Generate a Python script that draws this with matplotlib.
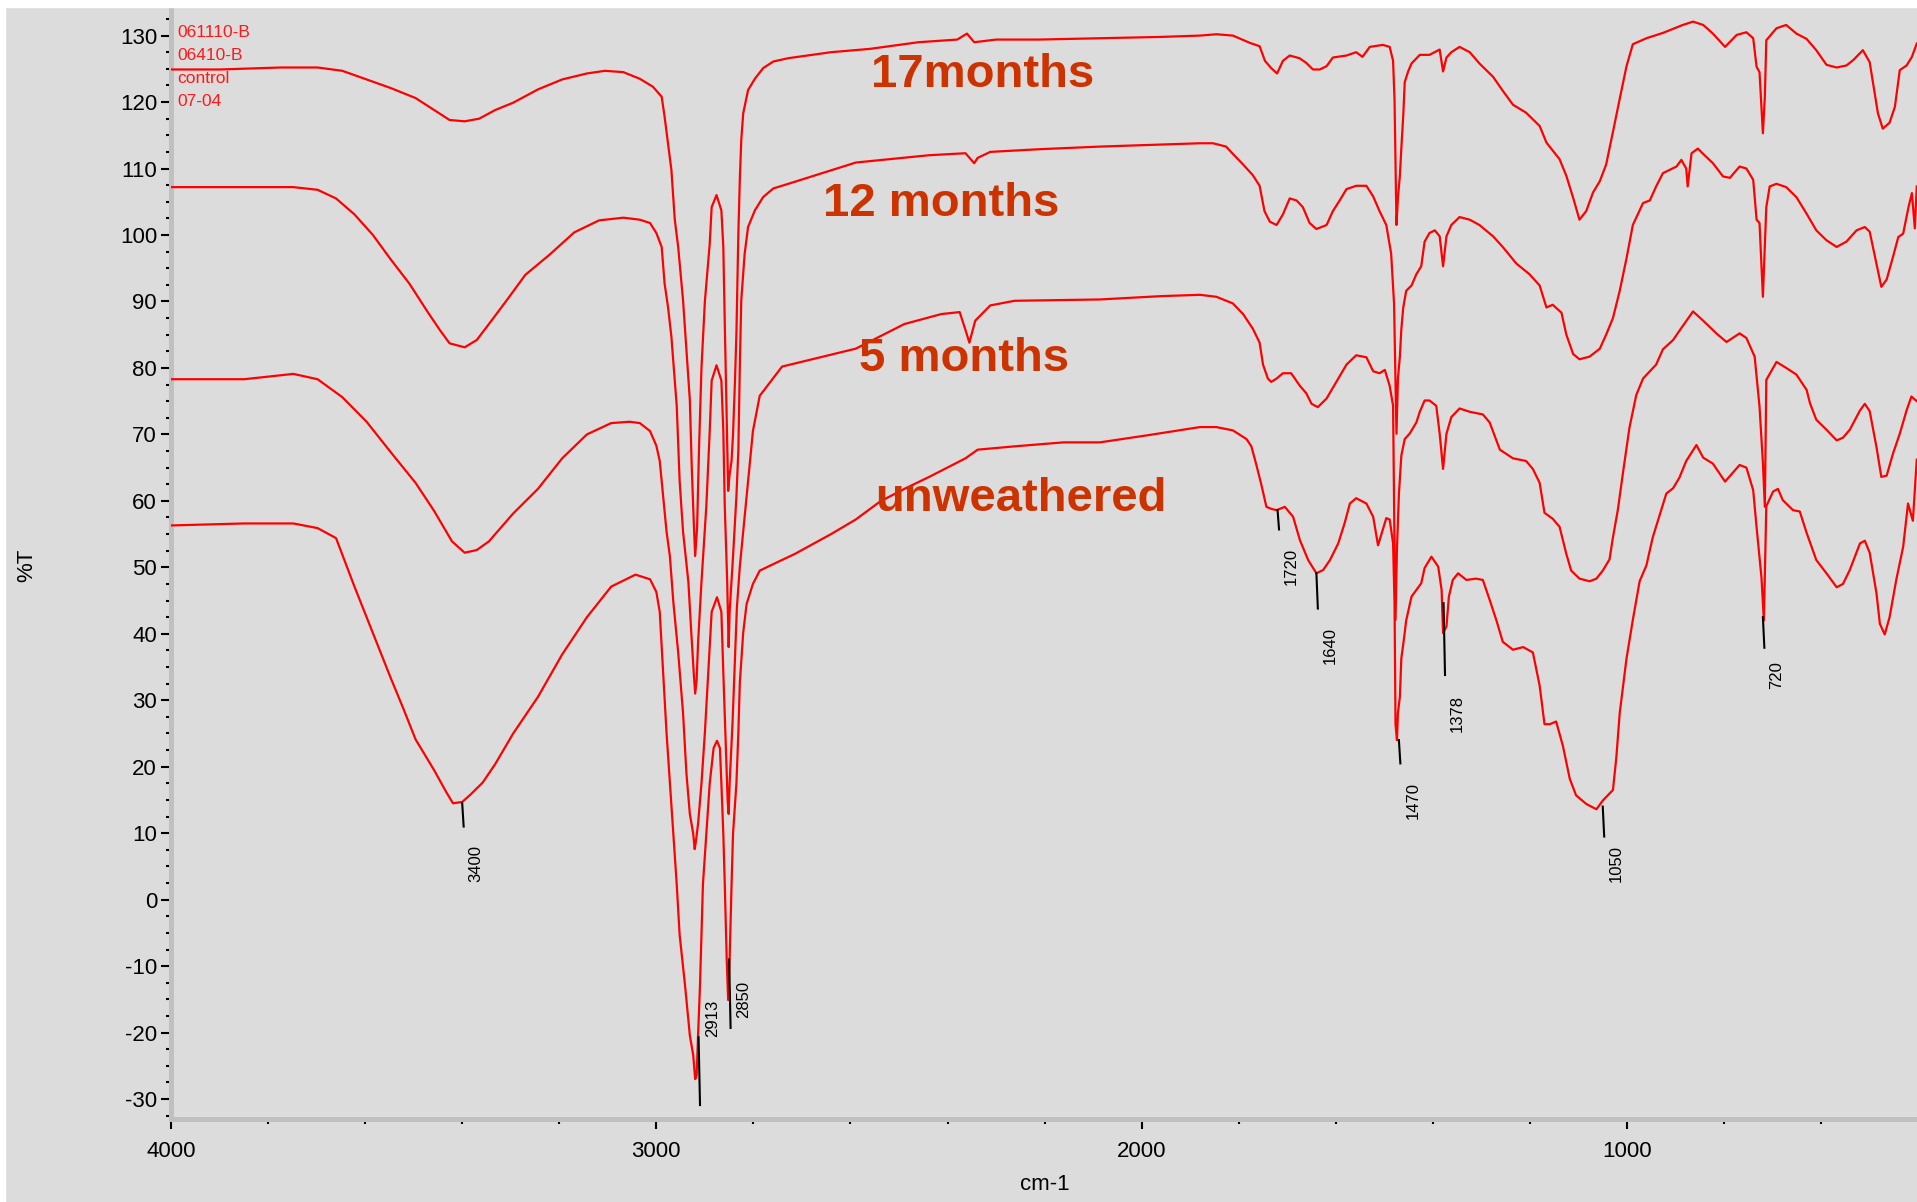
"""FTIR spectra of weathered film samples, offset stack with peak markers."""

import numpy as np
import matplotlib

matplotlib.use("Agg")
import matplotlib.pyplot as plt
from matplotlib.patches import Rectangle
from matplotlib.ticker import MultipleLocator
from matplotlib.transforms import offset_copy

plt.rcParams["font.family"] = ["Liberation Sans", "DejaVu Sans"]
plt.rcParams["axes.unicode_minus"] = False

# (wavenumber cm-1, %T) for each sample
spec_17m = [
    (4000, 124.9), (3899, 124.9), (3773, 125.2), (3698, 125.2), (3647, 124.7), (3597, 123.4),
    (3547, 122.1), (3496, 120.6), (3458, 118.8), (3426, 117.3), (3395, 117.1), (3365, 117.5),
    (3332, 118.8), (3295, 119.9), (3244, 121.9), (3194, 123.4), (3143, 124.3), (3106, 124.7),
    (3068, 124.5), (3034, 123.5), (3007, 122.3), (2989, 120.8), (2983, 117.8), (2976, 113.8),
    (2969, 109.8), (2962, 102.3), (2955, 98.2), (2945, 90.2), (2938, 82.7), (2931, 75.2),
    (2927, 65.0), (2923, 57.0), (2920, 51.7), (2916, 56.0), (2912, 68.0), (2907, 80.0),
    (2900, 90.0), (2890, 98.7), (2886, 104.2), (2876, 106.0), (2866, 103.7), (2862, 98.2),
    (2859, 86.7), (2855, 72.7), (2852, 61.5), (2849, 64.0), (2845, 66.0), (2842, 70.0),
    (2838, 78.0), (2835, 85.2), (2831, 100.3), (2828, 108.3), (2825, 114.3), (2821, 118.3),
    (2811, 121.8), (2797, 123.5), (2780, 125.1), (2759, 126.1), (2728, 126.6), (2640, 127.5),
    (2560, 128.0), (2460, 129.0), (2380, 129.4), (2360, 130.3), (2345, 129.0), (2300, 129.4),
    (2212, 129.4), (2086, 129.6), (1960, 129.8), (1880, 130.0), (1846, 130.2), (1812, 130.0),
    (1777, 128.9), (1757, 128.4), (1746, 126.2), (1733, 125.1), (1721, 124.3), (1709, 126.2),
    (1695, 127.0), (1675, 126.6), (1661, 125.9), (1647, 124.9), (1633, 124.9), (1619, 125.4),
    (1606, 126.7), (1578, 127.0), (1558, 127.5), (1545, 126.8), (1530, 128.3), (1503, 128.6),
    (1489, 128.3), (1482, 126.2), (1479, 120.3), (1475, 101.5), (1472, 105.6), (1468, 108.9),
    (1465, 113.0), (1461, 118.0), (1458, 123.0), (1451, 124.6), (1444, 125.8), (1427, 127.1),
    (1407, 127.1), (1386, 127.9), (1379, 124.6), (1372, 126.7), (1362, 127.5), (1345, 128.3),
    (1324, 127.5), (1304, 125.8), (1276, 123.8), (1256, 121.7), (1235, 119.6), (1208, 118.4),
    (1180, 116.4), (1166, 113.9), (1139, 111.4), (1125, 108.9), (1111, 105.6), (1098, 102.3),
    (1084, 103.6), (1070, 106.4), (1056, 108.1), (1043, 110.6), (1029, 115.5), (1015, 120.5),
    (1001, 125.4), (988, 128.7), (960, 129.6), (926, 130.4), (885, 131.6), (864, 132.1),
    (843, 131.6), (823, 130.3), (798, 128.3), (774, 130.1), (754, 130.5), (740, 129.6),
    (733, 125.3), (727, 124.5), (720, 115.3), (716, 120.8), (713, 129.3), (692, 131.1),
    (672, 131.6), (651, 130.3), (630, 129.5), (610, 127.8), (589, 125.6), (568, 125.2),
    (548, 125.5), (534, 126.3), (514, 127.8), (500, 126.0), (493, 122.8), (483, 118.3),
    (473, 116.0), (459, 116.9), (448, 119.3), (438, 124.8), (424, 125.5), (413, 126.8),
    (403, 128.8),
]

spec_12m = [
    (4000, 107.2), (3849, 107.2), (3748, 107.2), (3698, 106.8), (3660, 105.5), (3622, 103.1),
    (3584, 100.0), (3547, 96.3), (3509, 92.7), (3471, 88.4), (3446, 85.7), (3426, 83.7),
    (3395, 83.1), (3370, 84.2), (3345, 86.6), (3307, 90.3), (3270, 94.0), (3219, 97.1),
    (3169, 100.4), (3118, 102.2), (3068, 102.6), (3034, 102.3), (3013, 101.8), (3000, 100.3),
    (2989, 98.2), (2983, 92.7), (2976, 89.2), (2969, 84.7), (2958, 74.3), (2952, 63.0),
    (2945, 55.4), (2934, 47.8), (2928, 40.2), (2923, 34.2), (2920, 31.0), (2917, 33.0),
    (2914, 38.7), (2907, 47.8), (2897, 59.2), (2890, 70.5), (2886, 78.1), (2876, 80.4),
    (2866, 78.1), (2862, 70.5), (2859, 59.2), (2854, 47.8), (2851, 38.0), (2849, 43.3),
    (2842, 51.6), (2835, 60.7), (2831, 67.6), (2828, 80.2), (2825, 90.2), (2818, 97.2),
    (2811, 101.2), (2797, 103.7), (2780, 105.7), (2759, 107.0), (2728, 107.7), (2589, 110.9),
    (2438, 112.0), (2363, 112.3), (2345, 110.8), (2338, 111.6), (2312, 112.5), (2212, 112.9),
    (2086, 113.3), (1960, 113.6), (1880, 113.8), (1853, 113.8), (1826, 113.3), (1812, 112.2),
    (1791, 110.6), (1771, 109.0), (1757, 107.4), (1747, 103.6), (1736, 102.0), (1722, 101.5),
    (1709, 103.1), (1695, 105.5), (1681, 105.2), (1668, 104.2), (1654, 101.8), (1640, 100.9),
    (1619, 101.5), (1606, 103.6), (1592, 105.2), (1578, 106.9), (1558, 107.4), (1537, 107.4),
    (1523, 105.8), (1510, 103.6), (1496, 101.5), (1486, 97.2), (1480, 89.7), (1475, 70.1),
    (1472, 78.4), (1468, 81.7), (1465, 85.8), (1461, 89.1), (1455, 91.6), (1444, 92.4),
    (1434, 94.1), (1424, 95.3), (1417, 99.0), (1407, 100.3), (1396, 100.7), (1386, 99.8),
    (1379, 95.3), (1372, 99.8), (1362, 101.5), (1345, 102.7), (1324, 102.3), (1304, 101.5),
    (1276, 99.8), (1256, 98.2), (1228, 95.7), (1201, 94.1), (1180, 92.4), (1166, 89.1),
    (1153, 89.5), (1135, 88.3), (1125, 85.0), (1111, 82.1), (1098, 81.3), (1077, 81.7),
    (1056, 82.9), (1043, 85.0), (1029, 87.5), (1015, 91.6), (1001, 96.5), (988, 101.5),
    (967, 104.8), (953, 105.2), (940, 107.3), (926, 109.3), (898, 110.3), (888, 111.3),
    (878, 110.0), (875, 107.3), (867, 112.3), (854, 113.0), (843, 112.2), (823, 110.8),
    (802, 108.8), (788, 108.6), (768, 110.3), (754, 110.0), (740, 108.3), (733, 102.3),
    (727, 101.8), (720, 90.7), (713, 104.2), (706, 107.3), (692, 107.7), (672, 107.2),
    (651, 105.7), (630, 103.2), (610, 100.7), (589, 99.2), (568, 98.2), (548, 99.0),
    (527, 100.7), (510, 101.2), (500, 100.5), (486, 95.7), (476, 92.2), (465, 93.3),
    (452, 96.7), (441, 99.7), (431, 100.2), (420, 104.2), (413, 106.3), (407, 101.0),
    (403, 107.3),
]

spec_5m = [
    (4000, 78.3), (3849, 78.3), (3748, 79.1), (3698, 78.3), (3647, 75.6), (3597, 71.9),
    (3547, 67.3), (3496, 62.7), (3458, 58.5), (3421, 53.9), (3395, 52.2), (3370, 52.6),
    (3345, 53.9), (3295, 58.1), (3244, 61.8), (3194, 66.4), (3143, 70.0), (3093, 71.7),
    (3055, 71.9), (3034, 71.7), (3013, 70.5), (3000, 68.3), (2993, 66.0), (2986, 60.7),
    (2979, 55.4), (2972, 51.6), (2965, 44.8), (2955, 37.2), (2945, 28.1), (2938, 19.0),
    (2931, 12.9), (2924, 9.9), (2921, 7.6), (2919, 8.5), (2914, 11.4), (2907, 17.5),
    (2900, 25.1), (2893, 34.2), (2886, 43.3), (2875, 45.5), (2866, 43.3), (2862, 34.2),
    (2857, 23.5), (2853, 14.8), (2851, 12.9), (2849, 17.5), (2843, 26.6), (2838, 36.4),
    (2834, 44.0), (2828, 50.1), (2821, 55.4), (2811, 63.0), (2801, 70.5), (2787, 75.8),
    (2741, 80.2), (2640, 82.0), (2589, 82.9), (2489, 86.6), (2413, 88.1), (2375, 88.4),
    (2363, 85.7), (2355, 83.8), (2343, 87.1), (2312, 89.4), (2262, 90.1), (2086, 90.3),
    (1960, 90.8), (1880, 91.0), (1846, 90.7), (1812, 89.7), (1791, 88.1), (1771, 85.9),
    (1757, 83.8), (1750, 80.5), (1740, 78.4), (1733, 77.9), (1722, 78.4), (1709, 79.2),
    (1692, 79.2), (1674, 77.3), (1661, 76.2), (1650, 74.6), (1637, 74.1), (1619, 75.4),
    (1599, 77.9), (1578, 80.5), (1558, 81.9), (1537, 81.6), (1523, 79.5), (1510, 79.2),
    (1499, 79.7), (1489, 77.3), (1482, 74.3), (1479, 52.8), (1477, 42.1), (1474, 52.8),
    (1470, 61.0), (1465, 66.8), (1458, 69.3), (1448, 70.1), (1434, 71.8), (1427, 73.4),
    (1417, 75.1), (1407, 75.1), (1393, 74.3), (1386, 70.1), (1379, 64.8), (1372, 70.1),
    (1362, 72.6), (1345, 73.9), (1324, 73.4), (1297, 73.0), (1283, 71.8), (1262, 67.7),
    (1235, 66.4), (1208, 66.0), (1194, 64.8), (1180, 62.7), (1170, 58.2), (1153, 57.3),
    (1139, 56.1), (1125, 52.0), (1115, 49.5), (1098, 48.3), (1077, 47.9), (1063, 48.3),
    (1050, 49.5), (1036, 51.2), (1029, 54.5), (1019, 58.6), (1008, 64.4), (995, 71.0),
    (981, 75.9), (967, 78.4), (953, 79.5), (940, 80.5), (926, 82.8), (905, 84.2),
    (891, 85.7), (864, 88.5), (843, 87.1), (816, 85.2), (795, 83.9), (768, 85.2),
    (754, 84.5), (737, 81.7), (727, 74.2), (720, 65.7), (716, 59.1), (713, 78.2),
    (692, 80.9), (672, 80.0), (651, 79.0), (630, 76.7), (623, 74.7), (610, 72.2),
    (589, 70.7), (568, 69.1), (555, 69.5), (541, 70.7), (520, 73.6), (510, 74.6),
    (500, 73.5), (486, 68.1), (476, 63.6), (465, 63.8), (452, 67.1), (438, 70.1),
    (424, 73.6), (414, 75.7), (403, 75.0),
]

spec_unweathered = [
    (4000, 56.3), (3849, 56.6), (3748, 56.6), (3698, 55.9), (3660, 54.4), (3622, 47.1),
    (3597, 42.5), (3572, 37.9), (3547, 33.3), (3521, 28.7), (3496, 24.1), (3458, 19.5),
    (3433, 16.2), (3419, 14.5), (3400, 14.7), (3383, 15.8), (3358, 17.6), (3332, 20.4),
    (3295, 25.0), (3244, 30.5), (3194, 36.9), (3143, 42.5), (3093, 47.1), (3043, 48.9),
    (3013, 48.2), (3000, 46.3), (2993, 43.3), (2986, 34.2), (2979, 25.1), (2972, 17.5),
    (2965, 9.9), (2958, 2.3), (2952, -5.3), (2941, -12.8), (2931, -20.4), (2924, -23.4),
    (2920, -27.0), (2917, -26.5), (2914, -20.4), (2910, -12.8), (2907, -5.3), (2904, 2.3),
    (2897, 9.9), (2890, 17.5), (2882, 22.8), (2875, 23.9), (2869, 22.8), (2866, 17.5),
    (2862, 9.9), (2859, 2.3), (2855, -9.0), (2852, -15.1), (2849, -9.0), (2845, 2.3),
    (2842, 9.9), (2835, 17.5), (2831, 25.1), (2828, 32.6), (2821, 40.2), (2814, 44.5),
    (2801, 47.5), (2787, 49.5), (2750, 50.8), (2715, 52.0), (2640, 55.0), (2589, 57.2),
    (2539, 59.9), (2489, 61.8), (2438, 63.6), (2363, 66.4), (2338, 67.7), (2262, 68.2),
    (2161, 68.8), (2086, 68.8), (1985, 69.9), (1880, 71.1), (1846, 71.1), (1812, 70.6),
    (1784, 69.3), (1774, 68.2), (1764, 65.5), (1753, 62.3), (1743, 59.1), (1733, 58.8),
    (1722, 58.6), (1705, 59.1), (1688, 57.6), (1674, 54.1), (1657, 51.1), (1640, 49.1),
    (1626, 49.6), (1612, 51.1), (1595, 53.6), (1582, 56.6), (1571, 59.6), (1558, 60.4),
    (1537, 59.6), (1523, 57.6), (1513, 53.3), (1506, 55.0), (1496, 57.4), (1489, 57.2),
    (1482, 53.6), (1479, 44.6), (1477, 26.4), (1474, 24.0), (1472, 28.1), (1468, 30.5),
    (1465, 36.3), (1460, 39.0), (1455, 42.0), (1444, 45.6), (1434, 46.6), (1424, 47.6),
    (1417, 49.9), (1403, 51.6), (1389, 50.1), (1382, 46.6), (1379, 40.1), (1372, 41.1),
    (1367, 45.6), (1359, 48.1), (1348, 49.1), (1331, 48.1), (1311, 48.3), (1297, 48.1),
    (1283, 45.1), (1269, 42.0), (1256, 38.8), (1235, 37.6), (1214, 38.0), (1194, 37.2),
    (1180, 32.2), (1170, 26.4), (1159, 26.4), (1146, 26.8), (1132, 23.1), (1118, 18.2),
    (1105, 15.7), (1084, 14.4), (1063, 13.6), (1050, 14.9), (1029, 16.5), (1022, 21.4),
    (1015, 28.1), (1001, 36.3), (988, 42.1), (974, 47.9), (960, 50.3), (947, 54.5),
    (933, 57.8), (919, 61.1), (905, 61.9), (892, 63.5), (878, 66.0), (857, 68.4),
    (843, 66.5), (823, 65.6), (798, 62.9), (768, 65.4), (754, 65.0), (740, 61.6),
    (733, 56.0), (723, 48.5), (718, 42.0), (713, 59.2), (699, 61.4), (689, 61.8),
    (679, 60.1), (658, 58.6), (644, 58.4), (630, 55.2), (610, 51.1), (589, 49.1),
    (568, 47.0), (555, 47.5), (541, 49.6), (520, 53.6), (510, 54.0), (500, 52.2),
    (486, 46.1), (479, 41.5), (469, 39.9), (459, 42.5), (445, 48.2), (431, 53.1),
    (421, 59.6), (411, 57.0), (403, 66.2),
]

sample_ids = ["061110-B", "06410-B", "control", "07-04"]
series_names = ["17months", "12 months", "5 months", "unweathered"]

# peak markers on the unweathered trace
peak_wn = [3400, 2913, 2850, 1720, 1640, 1470, 1378, 1050, 720]
# leader line top / bottom and label centre (%T)
peak_line = [(14.5, 11.0), (-20.7, -30.9), (-9.0, -19.3), (58.6, 55.7), (49.1, 43.8),
             (24.0, 20.5), (44.6, 33.8), (14.0, 9.5), (42.5, 37.9)]
peak_text_y = [5.5, -17.9, -15.0, 50.1, 38.2, 14.9, 28.0, 5.5, 33.8]

# series title anchors (wavenumber centre, %T baseline)
title_pos = [(2327, 122.3), (2413, 102.9), (2365, 79.6), (2249, 58.5)]

W, H = 1917, 1202
BG = "#dcdcdc"
fig = plt.figure(figsize=(W / 100, H / 100), dpi=100, facecolor=BG)
fig.patches.append(Rectangle((0, 1 - 7 / H), 1, 7 / H, transform=fig.transFigure,
                             color="white", zorder=0))
fig.patches.append(Rectangle((0, 0), 5 / W, 1, transform=fig.transFigure,
                             color="white", zorder=0))

ax = fig.add_axes([171 / W, 1 - 1119 / H, 1 - 171 / W, (1119 - 7) / H])
ax.set_facecolor(BG)

for spec in (spec_17m, spec_12m, spec_5m, spec_unweathered):
    arr = np.array(spec)
    ax.plot(arr[:, 0], arr[:, 1], color="#ff0000", lw=1.6, zorder=3)

ax.set_xlim(4000, 402.5)
ax.set_ylim(-33.0, 134.3)

# peak labels
text_tr = offset_copy(ax.transData, fig=fig, x=14, y=0, units="dots")
for wn, (y0, y1), ty in zip(peak_wn, peak_line, peak_text_y):
    ax.plot([wn, wn - 3], [y0, y1], color="black", lw=1.5, zorder=4)
    ax.text(wn, ty, str(wn), transform=text_tr, rotation=90, ha="center",
            va="center", fontsize=12, color="black", zorder=5)

for name, (x, y) in zip(series_names, title_pos):
    ax.text(x, y, name, ha="center", va="baseline", fontsize=34,
            fontweight="bold", color="#cc3300", zorder=6)

for i, sid in enumerate(sample_ids):
    base = [37.3, 60.0, 83.3, 106.0][i]
    fig.text(177 / W, 1 - base / H, sid, color="#ff1a1a", fontsize=12.5,
             va="baseline", ha="left", zorder=7)

for side in ("top", "right"):
    ax.spines[side].set_visible(False)
for side in ("left", "bottom"):
    ax.spines[side].set_color("#c0c0c0")
    ax.spines[side].set_linewidth(3.6)

ax.xaxis.set_major_locator(MultipleLocator(1000))
ax.xaxis.set_minor_locator(MultipleLocator(200))
ax.yaxis.set_major_locator(MultipleLocator(10))
ax.yaxis.set_minor_locator(MultipleLocator(2.5))
ax.tick_params(which="major", direction="out", length=7, width=1.5, color="black",
               labelsize=16)
ax.tick_params(which="minor", direction="out", length=3.6, width=1.5, color="black")
ax.tick_params(axis="y", which="major", pad=3)
ax.tick_params(axis="x", which="major", pad=9)

fig.text(1045 / W, 1 - 1185 / H, "cm-1", ha="center", va="center", fontsize=16)
fig.text(27 / W, 1 - 565 / H, "%T", ha="center", va="center", fontsize=16,
         rotation=90)

fig.savefig("out.png", dpi=100, facecolor=BG)
